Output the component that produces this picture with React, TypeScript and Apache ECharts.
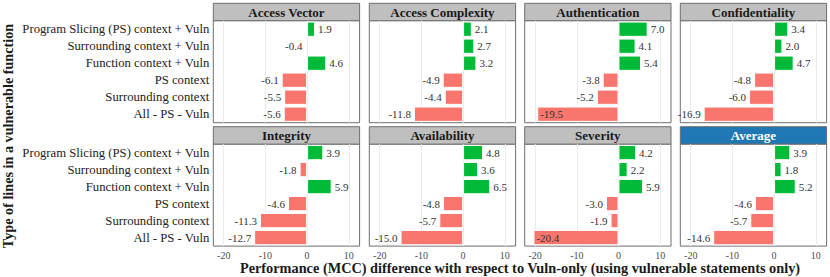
import React, { useEffect, useRef } from "react";
import * as echarts from "echarts";

const categories = [
  "Program Slicing (PS) context + Vuln",
  "Surrounding context + Vuln",
  "Function context + Vuln",
  "PS context",
  "Surrounding context",
  "All - PS - Vuln",
];
const panelNames = [
  "Access Vector",
  "Access Complexity",
  "Authentication",
  "Confidentiality",
  "Integrity",
  "Availability",
  "Severity",
  "Average",
];
const accessVector = [1.9, -0.4, 4.6, -6.1, -5.5, -5.6];
const accessComplexity = [2.1, 2.7, 3.2, -4.9, -4.4, -11.8];
const authentication = [7.0, 4.1, 5.4, -3.8, -5.2, -19.5];
const confidentiality = [3.4, 2.0, 4.7, -4.8, -6.0, -16.9];
const integrity = [3.9, -1.8, 5.9, -4.6, -11.3, -12.7];
const availability = [4.8, 3.6, 6.5, -4.8, -5.7, -15.0];
const severity = [4.2, 2.2, 5.9, -3.0, -1.9, -20.4];
const average = [3.9, 1.8, 5.2, -4.6, -5.7, -14.6];
const panelValues = [
  accessVector,
  accessComplexity,
  authentication,
  confidentiality,
  integrity,
  availability,
  severity,
  average,
];
const xTicks = [-20, -10, 0, 10];

const FONT = "Liberation Serif";
const GREEN = "#00BA38";
const RED = "#F8766D";

export default function App() {
  const ref = useRef<HTMLDivElement>(null);
  useEffect(() => {
    const chart = echarts.init(ref.current!, null, { renderer: "svg" });
    const lefts = [213.3, 369.3, 524.7, 680.3];
    const panelW = 146.3;
    const stripTops = [3.3, 126.7];
    const stripH = 17.4;
    const plotH = 102;

    const grids: any[] = [];
    const xAxes: any[] = [];
    const yAxes: any[] = [];
    const series: any[] = [];
    const graphics: any[] = [];

    panelNames.forEach((name, i) => {
      const row = Math.floor(i / 4);
      const col = i % 4;
      const left = lefts[col];
      const top = stripTops[row] + stripH;
      grids.push({
        left,
        top,
        width: panelW,
        height: plotH,
        show: true,
        borderColor: "#6e6e6e",
        borderWidth: 1,
        backgroundColor: "#fff",
        containLabel: false,
      });
      xAxes.push({
        type: "value",
        gridIndex: i,
        min: -22.5,
        max: 12.6,
        axisLine: { show: false },
        axisTick: { show: false, customValues: xTicks },
        axisLabel: {
          show: row === 1,
          customValues: xTicks,
          fontFamily: FONT,
          fontSize: 10,
          color: "#4d4d4d",
          margin: 4,
        },
        splitLine: { show: false },
      });
      yAxes.push({
        type: "category",
        gridIndex: i,
        data: categories,
        inverse: true,
        axisLine: { show: false },
        axisTick: { show: false },
        axisLabel: {
          show: col === 0,
          fontFamily: FONT,
          fontSize: 12.7,
          color: "#222",
          margin: 4,
        },
      });
      const vals = panelValues[i];
      series.push({
        type: "bar",
        xAxisIndex: i,
        yAxisIndex: i,
        barCategoryGap: "10%",
        data: vals.map((v) => ({
          value: v,
          itemStyle: { color: v >= 0 ? GREEN : RED, borderColor: "#fff", borderWidth: 1 },
          label: {
            show: true,
            position: v >= 0 ? "right" : v < -18 ? "insideLeft" : "left",
            distance: 3,
            formatter: v.toFixed(1),
            fontFamily: FONT,
            fontSize: 11,
            color: "#333",
          },
        })),
        markLine: {
          silent: true,
          symbol: "none",
          label: { show: false },
          lineStyle: { color: "#ebebeb", width: 1, type: "solid" },
          z: 0,
          data: xTicks.map((t) => ({ xAxis: t })),
        },
        z: 2,
      });
      const isAvg = name === "Average";
      graphics.push({
        type: "rect",
        shape: { x: left, y: stripTops[row], width: panelW, height: stripH },
        style: {
          fill: isAvg ? "#1f77b4" : "#bfbfbf",
          stroke: "#6e6e6e",
          lineWidth: 1,
        },
      });
      graphics.push({
        type: "text",
        x: left + panelW / 2,
        y: stripTops[row] + stripH / 2 + 0.5,
        style: {
          text: name,
          fontFamily: FONT,
          fontSize: 13,
          fontWeight: "bold",
          fill: isAvg ? "#fff" : "#1a1a1a",
          align: "center",
          verticalAlign: "middle",
        },
      });
    });

    graphics.push({
      type: "text",
      x: 520,
      y: 268,
      style: {
        text: "Performance (MCC) difference with respect to Vuln-only (using vulnerable statements only)",
        fontFamily: FONT,
        fontSize: 14.3,
        fontWeight: "bold",
        fill: "#1a1a1a",
        align: "center",
        verticalAlign: "middle",
      },
    });
    graphics.push({
      type: "text",
      x: 8,
      y: 136,
      rotation: Math.PI / 2,
      style: {
        text: "Type of lines in a vulnerable function",
        fontFamily: FONT,
        fontSize: 14.2,
        fontWeight: "bold",
        fill: "#1a1a1a",
        align: "center",
        verticalAlign: "middle",
      },
    });

    chart.setOption({
      animation: false,
      backgroundColor: "#fff",
      textStyle: { fontFamily: FONT },
      grid: grids,
      xAxis: xAxes,
      yAxis: yAxes,
      series,
      graphic: graphics,
    });
    return () => chart.dispose();
  }, []);
  return (
    <div
      ref={ref}
      style={{ position: "fixed", left: 0, top: 0, width: 830, height: 277 }}
    />
  );
}
